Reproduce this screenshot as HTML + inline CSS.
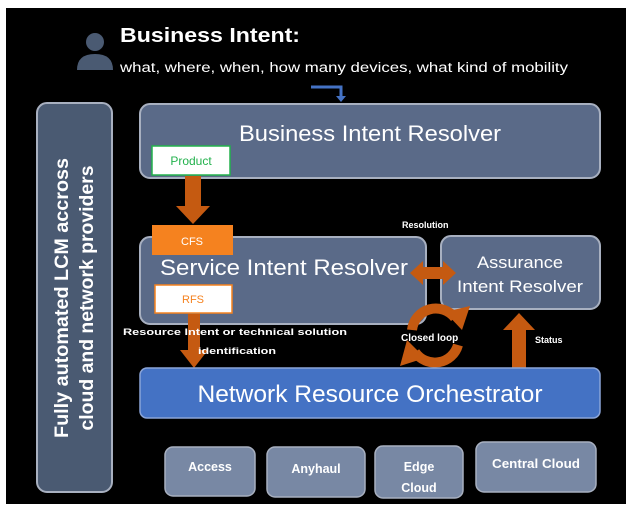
<!DOCTYPE html>
<html><head><meta charset="utf-8"><style>
body{margin:0;background:#fff;}
svg{display:block;font-family:"Liberation Sans",sans-serif;}
</style></head><body>
<svg width="632" height="508" viewBox="0 0 632 508" xmlns="http://www.w3.org/2000/svg">
<rect x="6" y="8" width="620" height="496" fill="#000"/>
<circle cx="95" cy="42" r="9" fill="#4a5a72"/>
<path d="M77 70 Q77 54 95 54 Q113 54 113 70 Z" fill="#4a5a72"/>
<text x="120" y="42" fill="#fff" font-size="20" font-weight="bold" textLength="180" lengthAdjust="spacingAndGlyphs">Business Intent:</text>
<text x="120" y="72" fill="#fff" font-size="13.5" textLength="448" lengthAdjust="spacingAndGlyphs">what, where, when, how many devices, what kind of mobility</text>
<path d="M311 87 H341 V97" fill="none" stroke="#4472c4" stroke-width="3"/>
<path d="M336 96 L346 96 L341 102 Z" fill="#4472c4"/>
<rect x="37" y="103" width="75" height="389" rx="10" fill="#4a5a72" stroke="#a8b0c0" stroke-width="2"/>
<text transform="translate(74,298) rotate(-90)" fill="#fff" font-size="19" font-weight="bold" text-anchor="middle"><tspan x="0" y="-6" textLength="280" lengthAdjust="spacingAndGlyphs">Fully automated LCM accross</tspan><tspan x="0" y="19" textLength="265" lengthAdjust="spacingAndGlyphs">cloud and network providers</tspan></text>
<rect x="140" y="104" width="460" height="74" rx="10" fill="#5a6a88" stroke="#a8b0c0" stroke-width="2"/>
<text x="370" y="141" fill="#fff" font-size="22" text-anchor="middle" textLength="262" lengthAdjust="spacingAndGlyphs">Business Intent Resolver</text>
<rect x="152" y="146" width="78" height="29" fill="#fff" stroke="#22b14c" stroke-width="1.5"/>
<text x="191" y="165" fill="#22b14c" font-size="12" text-anchor="middle">Product</text>
<rect x="185" y="176" width="16" height="32" fill="#c55a11"/>
<path d="M176 206 L210 206 L193 224 Z" fill="#c55a11"/>
<text x="402" y="228" fill="#fff" font-size="9" font-weight="bold">Resolution</text>
<rect x="140" y="237" width="286" height="87" rx="10" fill="#5a6a88" stroke="#a8b0c0" stroke-width="2"/>
<text x="284" y="275" fill="#fff" font-size="22" text-anchor="middle" textLength="248" lengthAdjust="spacingAndGlyphs">Service Intent Resolver</text>
<rect x="152" y="225" width="81" height="30" fill="#f5821f"/>
<text x="192" y="245" fill="#fff" font-size="11" text-anchor="middle">CFS</text>
<rect x="155" y="285" width="77" height="28" fill="#fff" stroke="#f5821f" stroke-width="1.5"/>
<text x="193" y="303" fill="#f5821f" font-size="11" text-anchor="middle">RFS</text>
<rect x="441" y="236" width="159" height="73" rx="10" fill="#5a6a88" stroke="#a8b0c0" stroke-width="2"/>
<text x="520" y="268" fill="#fff" font-size="17" text-anchor="middle" textLength="86" lengthAdjust="spacingAndGlyphs">Assurance</text>
<text x="520" y="292" fill="#fff" font-size="17" text-anchor="middle" textLength="126" lengthAdjust="spacingAndGlyphs">Intent Resolver</text>
<path d="M410 273 L423 261 L423 267 L443 267 L443 261 L456 273 L443 285 L443 279 L423 279 L423 285 Z" fill="#c55a11"/>
<path d="M412 330 A24 24 0 0 1 455 318" fill="none" stroke="#c55a11" stroke-width="10"/>
<path d="M445 312 L470 306 L462 330 Z" fill="#c55a11"/>
<path d="M458 345 A24 24 0 0 1 415 352" fill="none" stroke="#c55a11" stroke-width="10"/>
<path d="M425 358 L400 366 L407 340 Z" fill="#c55a11"/>
<text x="401" y="341" fill="#fff" font-size="10" font-weight="bold">Closed loop</text>
<rect x="512" y="328" width="14" height="40" fill="#c55a11"/>
<path d="M503 330 L535 330 L519 313 Z" fill="#c55a11"/>
<text x="535" y="343" fill="#fff" font-size="9" font-weight="bold">Status</text>
<rect x="188" y="314" width="12" height="38" fill="#c55a11"/>
<path d="M180 350 L208 350 L194 368 Z" fill="#c55a11"/>
<text x="123" y="335" fill="#fff" font-size="9" font-weight="bold" textLength="224" lengthAdjust="spacingAndGlyphs">Resource Intent or technical solution</text>
<text x="198" y="354" fill="#fff" font-size="9" font-weight="bold" textLength="78" lengthAdjust="spacingAndGlyphs">identification</text>
<rect x="140" y="368" width="460" height="50" rx="7" fill="#4472c4" stroke="#8aa4d8" stroke-width="1.5"/>
<text x="370" y="402" fill="#fff" font-size="24" text-anchor="middle" textLength="345" lengthAdjust="spacingAndGlyphs">Network Resource Orchestrator</text>
<g fill="#7888a4" stroke="#a8b0c0" stroke-width="1.5">
<rect x="165" y="447" width="90" height="49" rx="8"/>
<rect x="267" y="447" width="98" height="50" rx="8"/>
<rect x="375" y="446" width="88" height="52" rx="8"/>
<rect x="476" y="442" width="120" height="50" rx="8"/>
</g>
<g fill="#fff" font-size="12.5" font-weight="bold" text-anchor="middle">
<text x="210" y="471">Access</text>
<text x="316" y="473">Anyhaul</text>
<text x="419" y="471">Edge</text>
<text x="419" y="492">Cloud</text>
<text x="536" y="468" textLength="88" lengthAdjust="spacingAndGlyphs">Central Cloud</text>
</g>
</svg>
</body></html>
